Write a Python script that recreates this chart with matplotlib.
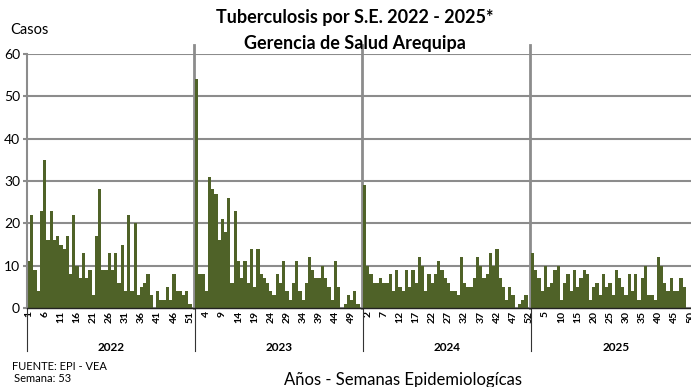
import matplotlib
matplotlib.use('Agg')
import matplotlib.pyplot as plt
import matplotlib.transforms as mtransforms

plt.rcParams['font.family'] = ['Lato', 'DejaVu Sans']

# casos de tuberculosis por semana epidemiologica
anios = ['2022', '2023', '2024', '2025']
semanas_por_anio = [52, 52, 52, 53]

casos_2022 = [11, 22, 9, 4, 23, 35, 16, 23, 16, 17, 15, 14, 17, 8, 22, 10, 7, 13, 7, 9,
              3, 17, 28, 9, 9, 13, 9, 13, 6, 15, 4, 22, 4, 20, 3, 5, 6, 8, 3, 0,
              4, 2, 2, 5, 2, 8, 4, 4, 3, 4, 1, 0]
casos_2023 = [54, 8, 8, 4, 31, 28, 27, 16, 21, 18, 26, 6, 23, 11, 7, 11, 6, 14, 5, 14,
              8, 7, 6, 4, 3, 8, 6, 11, 4, 2, 6, 11, 4, 2, 6, 12, 9, 7, 7, 10,
              7, 5, 2, 11, 5, 0, 1, 3, 2, 4, 1, 0]
casos_2024 = [29, 10, 8, 6, 6, 7, 6, 6, 8, 4, 9, 5, 4, 9, 5, 9, 6, 12, 10, 4,
              8, 6, 8, 11, 9, 7, 6, 4, 4, 3, 12, 6, 5, 5, 7, 12, 10, 7, 8, 13,
              10, 14, 7, 5, 2, 5, 3, 0, 1, 2, 3, 0]
casos_2025 = [13, 9, 7, 4, 10, 5, 6, 9, 10, 2, 6, 8, 4, 9, 5, 7, 9, 8, 2, 5,
              6, 3, 8, 5, 6, 3, 9, 7, 5, 3, 8, 4, 8, 2, 7, 10, 3, 3, 2, 12,
              10, 6, 4, 7, 4, 4, 7, 5]
casos = [casos_2022, casos_2023, casos_2024, casos_2025]

verde = '#4f6228'
gris = '#8c8c8c'

fig = plt.figure(figsize=(6.91, 3.87), dpi=100)
ax = fig.add_axes([27/691, 79/387, 675/691, 254/387])

inicio = 0
inicios = []
etiquetas_sem = []
for vals, n in zip(casos, semanas_por_anio):
    inicios.append(inicio)
    x = [inicio + i for i in range(len(vals))]
    ax.bar(x, vals, width=1.0, color=verde, linewidth=0, zorder=2)
    etiquetas_sem += list(range(1, n + 1))
    inicio += n
total = inicio

ax.set_xlim(-0.5, total - 0.5)
ax.set_ylim(0, 60)
ax.set_yticks(range(0, 61, 10))
ax.grid(axis='y', color=gris, linewidth=1.5, zorder=0)

pos = list(range(0, total, 5))
ax.set_xticks(pos)
ax.set_xticklabels([str(etiquetas_sem[p]) for p in pos], rotation=90,
                   fontsize=7.5, fontweight='bold')
ax.tick_params(axis='x', length=0, pad=2)
ax.tick_params(axis='y', length=3, width=1.5, color=gris, labelsize=10, pad=2)

for s in ['top', 'right']:
    ax.spines[s].set_visible(False)
ax.spines['left'].set_color(gris)
ax.spines['left'].set_linewidth(1.5)
ax.spines['bottom'].set_color('#222222')
ax.spines['bottom'].set_linewidth(1.0)

trans = mtransforms.blended_transform_factory(ax.transData, ax.transAxes)

# separadores entre anios (debajo de las barras)
for b in inicios[1:]:
    ax.plot([b - 0.7, b - 0.7], [0, 1.035], transform=trans, color=gris,
            linewidth=2.0, clip_on=False, zorder=1.8)

# divisiones del eje de categorias
for b in inicios:
    ax.plot([b - 0.5, b - 0.5], [0, -0.17], transform=trans, color='#333333',
            linewidth=0.8, clip_on=False)

for anio, b, n in zip(anios, inicios, semanas_por_anio):
    ax.text(b + n / 2 - 0.5, -0.155, anio, transform=trans, ha='center',
            va='center', fontsize=8.5, fontweight='bold')

fig.text(355/691, 1 - 18/387, 'Tuberculosis por S.E. 2022 - 2025*', ha='center',
         va='center', fontsize=13, fontweight='bold')
fig.text(355/691, 1 - 44/387, 'Gerencia de Salud Arequipa', ha='center',
         va='center', fontsize=13, fontweight='bold')
fig.text(10/691, 1 - 30/387, 'Casos', ha='left', va='center', fontsize=10.5)
fig.text(12/691, 1 - 366/387, 'FUENTE: EPI - VEA', ha='left', va='center', fontsize=8)
fig.text(14/691, 1 - 378/387, 'Semana: 53', ha='left', va='center', fontsize=8)
fig.text(403/691, 1 - 380/387, 'Años - Semanas Epidemiologícas', ha='center',
         va='center', fontsize=12)

fig.savefig('out.png', dpi=100)
